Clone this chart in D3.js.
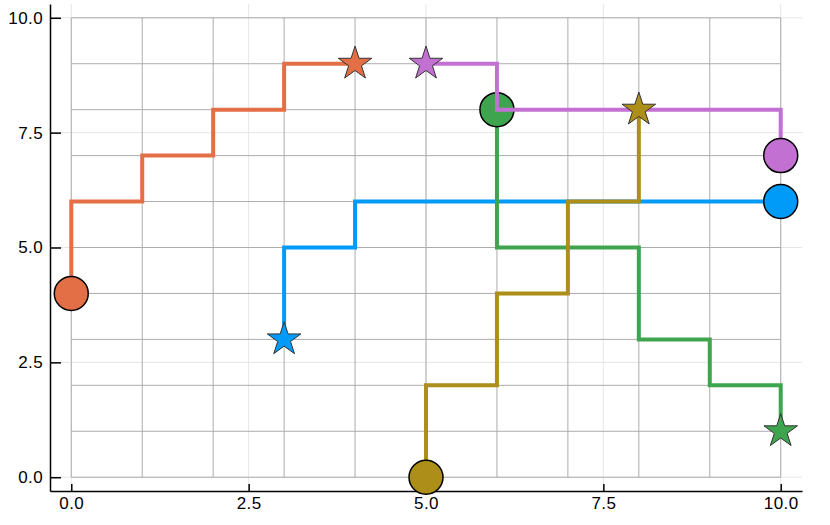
<!DOCTYPE html>
<meta charset="utf-8">
<style>
  body { margin: 0; background: #fff; }
  text { font-family: "Liberation Sans", Arial, sans-serif; font-size: 17px; fill: #000; }
</style>
<svg width="830" height="525"></svg>
<script src="https://cdn.jsdelivr.net/npm/d3@7/dist/d3.min.js"></script>
<script>
  // tick labels / grid
  var tickVals = [0, 2.5, 5, 7.5, 10];
  var cellVals = [0, 1, 2, 3, 4, 5, 6, 7, 8, 9, 10];

  // the five paths, in drawing order
  var names = ["blue", "orange", "green", "purple", "gold"];
  var colors = ["#009af9", "#e26f46", "#3ea44e", "#c271d2", "#ac8e18"];
  var stepMode = ["before", "before", "before", "after", "before"];
  var pathX = [
    [3, 4, 5, 6, 7, 8, 9, 10],
    [0, 1, 2, 3, 4],
    [6, 7, 8, 9, 10, 10],
    [5, 6, 7, 8, 9, 10],
    [5, 6, 7, 8, 8]
  ];
  var pathY = [
    [3, 5, 6, 6, 6, 6, 6, 6],
    [4, 6, 7, 8, 9],
    [8, 5, 5, 3, 2, 1],
    [9, 8, 8, 8, 8, 7],
    [0, 2, 4, 6, 8]
  ];
  // circle = start, star = goal
  var circleX = [10, 0, 6, 10, 5];
  var circleY = [6, 4, 8, 7, 0];
  var starX = [3, 4, 10, 5, 8];
  var starY = [3, 9, 1, 9, 8];

  var svg = d3.select("svg");

  var x = d3.scaleLinear().domain([-0.3, 10.3]).range([50, 802]);
  var y = d3.scaleLinear().domain([-0.3, 10.3]).range([491, 4]);

  // faint tick grid
  var g0 = svg.append("g").attr("class", "tickgrid")
    .attr("stroke", "#e6e6e6").attr("stroke-width", 1);
  g0.selectAll("line.v").data(tickVals).enter().append("line")
    .attr("x1", function(d) { return x(d); }).attr("x2", function(d) { return x(d); })
    .attr("y1", y.range()[0]).attr("y2", y.range()[1]);
  g0.selectAll("line.h").data(tickVals).enter().append("line")
    .attr("y1", function(d) { return y(d); }).attr("y2", function(d) { return y(d); })
    .attr("x1", x.range()[0]).attr("x2", x.range()[1]);

  // integer cell grid
  var g1 = svg.append("g").attr("class", "cells")
    .attr("stroke", "#acacac").attr("stroke-width", 1);
  g1.selectAll("line.v").data(cellVals).enter().append("line")
    .attr("x1", function(d) { return x(d); }).attr("x2", function(d) { return x(d); })
    .attr("y1", y(0)).attr("y2", y(10));
  g1.selectAll("line.h").data(cellVals).enter().append("line")
    .attr("y1", function(d) { return y(d); }).attr("y2", function(d) { return y(d); })
    .attr("x1", x(0)).attr("x2", x(10));

  // axes
  var fmt = d3.format(".1f");
  function styleAxis(g) {
    g.select(".domain").attr("stroke", "#000").attr("stroke-width", 1.5);
    g.selectAll(".tick line").attr("stroke", "#000").attr("stroke-width", 1.5);
    g.selectAll("text").style("font-size", "17px").style("letter-spacing", "0.4px").attr("fill", "#000");
  }
  svg.append("g")
    .attr("transform", "translate(" + x.range()[0] + ",0)")
    .call(d3.axisLeft(y).tickValues(tickVals).tickFormat(fmt).tickSizeInner(-11).tickSizeOuter(0).tickPadding(7))
    .call(styleAxis);
  svg.append("g")
    .attr("transform", "translate(0," + y.range()[0] + ")")
    .call(d3.axisBottom(x).tickValues(tickVals).tickFormat(fmt).tickSizeInner(-7).tickSizeOuter(0).tickPadding(6))
    .call(styleAxis);

  var star = d3.symbol().type(d3.symbolStar).size(350);

  names.forEach(function(name, i) {
    var pts = pathX[i].map(function(v, j) { return [v, pathY[i][j]]; });
    var line = d3.line()
      .x(function(d) { return x(d[0]); })
      .y(function(d) { return y(d[1]); })
      .curve(stepMode[i] === "after" ? d3.curveStepAfter : d3.curveStepBefore);

    var s = svg.append("g").attr("class", "series " + name);
    s.append("path")
      .attr("d", line(pts))
      .attr("fill", "none")
      .attr("stroke", colors[i])
      .attr("stroke-width", 4);

    s.append("circle")
      .attr("cx", x(circleX[i]))
      .attr("cy", y(circleY[i]))
      .attr("r", 17)
      .attr("fill", colors[i])
      .attr("stroke", "#000")
      .attr("stroke-width", 1.5);

    s.append("path")
      .attr("d", star)
      .attr("transform", "translate(" + x(starX[i]) + "," + y(starY[i]) + ")")
      .attr("fill", colors[i])
      .attr("stroke", "#333")
      .attr("stroke-width", 1);
  });
</script>
